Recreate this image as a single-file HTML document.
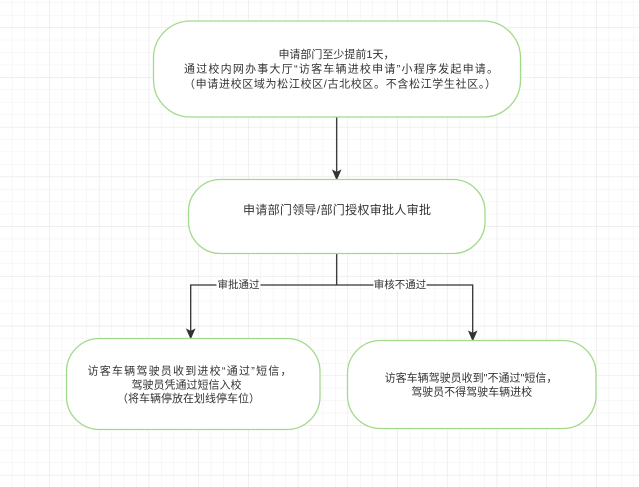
<!DOCTYPE html>
<html>
<head>
<meta charset="utf-8">
<style>
  html, body { margin:0; padding:0; background:#ffffff; }
  svg { display:block; }
  text { font-family: "Liberation Sans", "Noto Sans CJK SC", sans-serif; fill:#333333; }
</style>
</head>
<body>
<svg width="639" height="487" viewBox="0 0 639 487" xmlns="http://www.w3.org/2000/svg">
  <defs>
    <pattern id="minor" patternUnits="userSpaceOnUse" x="0" y="3" width="12.43" height="12.43">
      <path d="M12.43 0 V12.43 M0 12.43 H12.43" stroke="#f1f1f1" stroke-width="1" fill="none"/>
    </pattern>
    <pattern id="major" patternUnits="userSpaceOnUse" x="0" y="28" width="49.72" height="49.72">
      <path d="M49.72 0 V49.72 M0 49.72 H49.72" stroke="#e6e6e6" stroke-width="1" fill="none"/>
    </pattern>
  </defs>
  <rect x="0" y="0" width="639" height="487" fill="#ffffff"/>
  <rect x="0" y="0" width="639" height="487" fill="url(#minor)"/>
  <rect x="0" y="0" width="639" height="487" fill="url(#major)"/>

  <!-- connectors -->
  <g stroke="#333333" stroke-width="1.3" fill="none">
    <line x1="336.7" y1="117" x2="336.7" y2="173"/>
    <polyline points="336.7,253.5 336.7,285"/>
    <polyline points="190.7,332 190.7,285 472.7,285 472.7,334"/>
  </g>
  <g fill="#333333" stroke="#333333" stroke-width="1">
    <polygon points="336.7,179.3 332.9,170.5 336.7,172.5 340.5,170.5"/>
    <polygon points="190.7,338.3 186.9,329.5 190.7,331.5 194.5,329.5"/>
    <polygon points="472.7,340.3 468.9,331.5 472.7,333.5 476.5,331.5"/>
  </g>

  <!-- edge labels -->
  <rect x="216.5" y="279" width="44" height="12" fill="#ffffff"/>
  <text x="238.5" y="285" font-size="10.5" text-anchor="middle" dominant-baseline="central">审批通过</text>
  <rect x="373.5" y="279" width="53" height="12" fill="#ffffff"/>
  <text x="400" y="285" font-size="10.5" text-anchor="middle" dominant-baseline="central">审核不通过</text>

  <!-- nodes -->
  <g fill="#ffffff" stroke="#a3d98a" stroke-width="1.3">
    <rect x="153.5" y="21" width="367" height="96" rx="37" ry="37"/>
    <rect x="188.5" y="179.5" width="296.5" height="74" rx="32" ry="32"/>
    <rect x="66.5" y="338.5" width="253.5" height="91" rx="33" ry="33"/>
    <rect x="347.5" y="340.5" width="248.5" height="88" rx="33" ry="33"/>
  </g>

  <!-- node texts -->
  <text x="336.5" y="55" font-size="11" text-anchor="middle" dominant-baseline="central">申请部门至少提前1天，</text>
  <text x="341" y="69.7" font-size="11" text-anchor="middle" dominant-baseline="central" textLength="314" lengthAdjust="spacing">通过校内网办事大厅“访客车辆进校申请”小程序发起申请。</text>
  <text x="340" y="84.4" font-size="11" text-anchor="middle" dominant-baseline="central" textLength="312" lengthAdjust="spacing">（申请进校区域为松江校区/古北校区。不含松江学生社区。）</text>

  <text x="337" y="210" font-size="12" text-anchor="middle" dominant-baseline="central" textLength="188" lengthAdjust="spacing">申请部门领导/部门授权审批人审批</text>

  <text x="189.5" y="371.7" font-size="11" text-anchor="middle" dominant-baseline="central" textLength="204" lengthAdjust="spacing">访客车辆驾驶员收到进校“通过”短信，</text>
  <text x="186.5" y="385.3" font-size="11" text-anchor="middle" dominant-baseline="central">驾驶员凭通过短信入校</text>
  <text x="188.5" y="399" font-size="11" text-anchor="middle" dominant-baseline="central">（将车辆停放在划线停车位）</text>

  <text x="471" y="378.3" font-size="11" text-anchor="middle" dominant-baseline="central">访客车辆驾驶员收到"不通过"短信，</text>
  <text x="471.7" y="392.3" font-size="11" text-anchor="middle" dominant-baseline="central">驾驶员不得驾驶车辆进校</text>
</svg>
</body>
</html>
